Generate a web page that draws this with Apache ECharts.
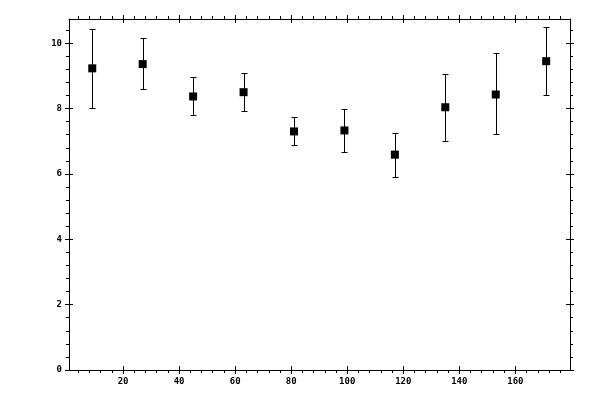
<!DOCTYPE html>
<html>
<head>
<meta charset="utf-8">
<script src="https://cdn.jsdelivr.net/npm/echarts@6/dist/echarts.min.js"></script>
<style>
html,body{margin:0;padding:0;background:#fff;}
#chart{width:600px;height:400px;}
</style>
</head>
<body>
<div id="chart"></div>
<script>
// ---- data ----
const xValues = [9, 27, 45, 63, 81, 99, 117, 135, 153, 171];
const yValues = [9.23, 9.36, 8.37, 8.50, 7.30, 7.33, 6.59, 8.04, 8.43, 9.45];
const yLow    = [8.03, 8.59, 7.79, 7.94, 6.87, 6.68, 5.92, 7.02, 7.21, 8.40];
const yHigh   = [10.43, 10.15, 8.96, 9.08, 7.73, 8.00, 7.24, 9.05, 9.70, 10.49];

// ---- axis ticks ----
const xMajorTicks = [20, 40, 60, 80, 100, 120, 140, 160];
const xMinorTicks = [4, 8, 12, 16, 24, 28, 32, 36, 44, 48, 52, 56, 64, 68, 72, 76,
  84, 88, 92, 96, 104, 108, 112, 116, 124, 128, 132, 136, 144, 148, 152, 156, 164, 168, 172, 176];
const yMajorTicks = [0, 2, 4, 6, 8, 10];
const yMinorTicks = [0.4, 0.8, 1.2, 1.6, 2.4, 2.8, 3.2, 3.6, 4.4, 4.8, 5.2, 5.6,
  6.4, 6.8, 7.2, 7.6, 8.4, 8.8, 9.2, 9.6, 10.4];
const xRange = [0.7, 179.5];
const yRange = [0, 10.74];

const labelFont = {color: '#000', fontFamily: 'DejaVu Sans Mono', fontSize: 9, fontWeight: 'bold'};

function makeAxes(kind, positions) {
  const range = kind === 'x' ? xRange : yRange;
  const major = kind === 'x' ? xMajorTicks : yMajorTicks;
  const minor = kind === 'x' ? xMinorTicks : yMinorTicks;
  const axes = [];
  positions.forEach(function (pos, pi) {
    const showLabel = pi === 0;
    axes.push({
      type: 'value', position: pos, min: range[0], max: range[1],
      axisLine: {show: true, onZero: false, lineStyle: {color: '#000', width: 1}},
      axisTick: {show: true, inside: false, length: 3, customValues: minor, lineStyle: {color: '#000'}},
      axisLabel: showLabel ? Object.assign({show: true, margin: 7, customValues: major}, labelFont) : {show: false},
      splitLine: {show: false}
    });
    axes.push({
      type: 'value', position: pos, min: range[0], max: range[1],
      axisLine: {show: false, onZero: false},
      axisTick: {show: true, inside: false, length: 4, customValues: major, lineStyle: {color: '#000'}},
      axisLabel: {show: false}, splitLine: {show: false}
    });
    axes.push({
      type: 'value', position: pos, min: range[0], max: range[1],
      axisLine: {show: false, onZero: false},
      axisTick: {show: true, inside: true, length: 4, customValues: major, lineStyle: {color: '#000'}},
      axisLabel: {show: false}, splitLine: {show: false}
    });
  });
  return axes;
}

const pointData = xValues.map(function (x, i) { return [x, yValues[i]]; });
const barData = xValues.map(function (x, i) { return [x, yLow[i], yHigh[i]]; });

const chart = echarts.init(document.getElementById('chart'), null, {renderer: 'canvas'});
chart.setOption({
  backgroundColor: '#fff',
  animation: false,
  grid: {left: 69, right: 30, top: 19, bottom: 30, containLabel: false},
  xAxis: makeAxes('x', ['bottom', 'top']),
  yAxis: makeAxes('y', ['left', 'right']),
  series: [
    {
      type: 'custom',
      xAxisIndex: 0, yAxisIndex: 0,
      encode: {x: 0, y: [1, 2]},
      data: barData,
      renderItem: function (params, api) {
        const x = api.value(0);
        const pLo = api.coord([x, api.value(1)]);
        const pHi = api.coord([x, api.value(2)]);
        const cx = Math.round(pLo[0]) + 0.5;
        const yl = Math.round(pLo[1]) + 0.5;
        const yh = Math.round(pHi[1]) + 0.5;
        const cap = 3;
        const st = {stroke: '#000', lineWidth: 1};
        return {type: 'group', children: [
          {type: 'line', shape: {x1: cx, y1: yh, x2: cx, y2: yl}, style: st},
          {type: 'line', shape: {x1: cx - cap, y1: yh, x2: cx + cap, y2: yh}, style: st},
          {type: 'line', shape: {x1: cx - cap, y1: yl, x2: cx + cap, y2: yl}, style: st}
        ]};
      },
      z: 2
    },
    {
      type: 'scatter',
      xAxisIndex: 0, yAxisIndex: 0,
      symbol: 'rect', symbolSize: 8,
      itemStyle: {color: '#000', opacity: 1},
      data: pointData,
      z: 3
    }
  ]
});
</script>
</body>
</html>
